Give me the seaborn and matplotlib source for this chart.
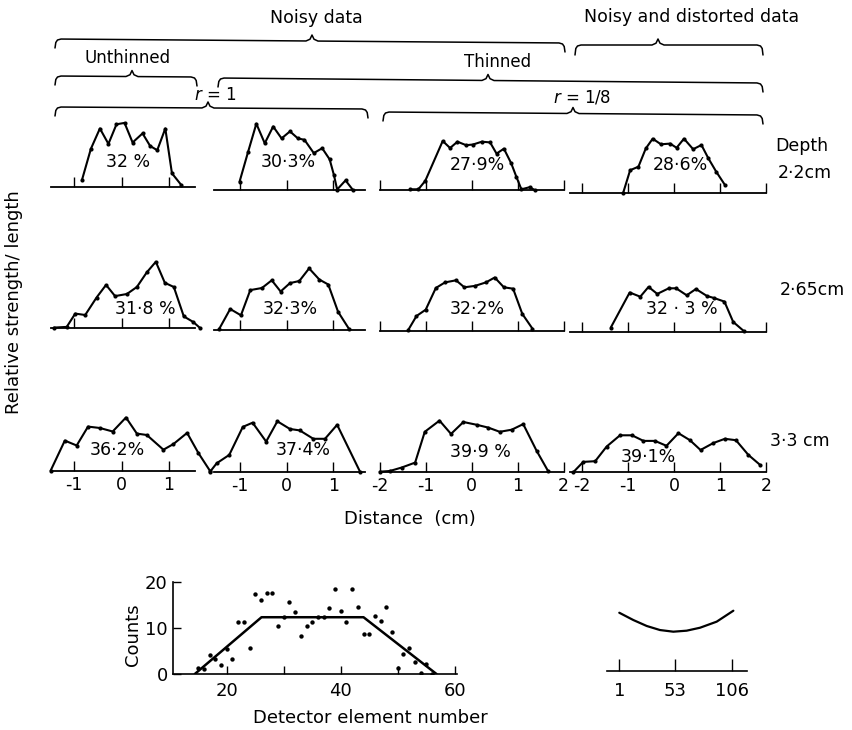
import matplotlib
matplotlib.use("Agg")
import matplotlib.pyplot as plt
import seaborn as sns

# ---------------- data ----------------
depth_labels = ["Depth", "2·2cm", "2·65cm", "3·3 cm"]
column_ticks = [[-1, 0, 1], [-1, 0, 1], [-2, -1, 0, 1, 2], [-2, -1, 0, 1, 2]]
column_tick_labels = [["-1", "0", "1"], ["-1", "0", "1"],
                      ["-2", "-1", "0", "1", "2"], ["-2", "-1", "0", "1", "2"]]
percent_labels = [["32 %", "30·3%", "27·9%", "28·6%"],
                  ["31·8 %", "32·3%", "32·2%", "32 · 3 %"],
                  ["36·2%", "37·4%", "39·9 %", "39·1%"]]

# depth 2.2 cm
r1c1_x = [-0.84, -0.65, -0.46, -0.28, -0.11, 0.06, 0.23, 0.44, 0.60, 0.75, 0.92, 1.06, 1.26]
r1c1_y = [0.10, 0.55, 0.84, 0.62, 0.90, 0.92, 0.64, 0.77, 0.59, 0.53, 0.84, 0.20, 0.03]
r1c2_x = [-1.01, -0.83, -0.65, -0.47, -0.29, -0.11, 0.07, 0.24, 0.38, 0.58, 0.76, 0.92, 1.01, 1.08, 1.26, 1.41]
r1c2_y = [0.11, 0.53, 0.94, 0.66, 0.90, 0.73, 0.83, 0.73, 0.71, 0.52, 0.59, 0.43, 0.21, 0.0, 0.13, 0.0]
r1c3_x = [-1.34, -1.16, -1.01, -0.63, -0.47, -0.31, -0.12, 0.03, 0.22, 0.40, 0.54, 0.70, 0.86, 0.97, 1.08, 1.26, 1.37]
r1c3_y = [0.01, 0.01, 0.13, 0.70, 0.60, 0.69, 0.64, 0.65, 0.69, 0.68, 0.52, 0.59, 0.38, 0.19, 0.01, 0.04, 0.0]
r1c4_x = [-1.11, -0.96, -0.78, -0.62, -0.47, -0.29, -0.09, 0.05, 0.21, 0.41, 0.59, 0.74, 0.91, 1.10]
r1c4_y = [0.01, 0.33, 0.38, 0.64, 0.78, 0.70, 0.71, 0.65, 0.78, 0.63, 0.69, 0.50, 0.31, 0.12]
# depth 2.65 cm
r2c1_x = [-1.43, -1.16, -0.98, -0.77, -0.53, -0.33, -0.14, 0.11, 0.32, 0.53, 0.72, 0.91, 1.10, 1.31, 1.51, 1.66]
r2c1_y = [0.01, 0.02, 0.21, 0.19, 0.44, 0.62, 0.46, 0.49, 0.59, 0.80, 0.95, 0.65, 0.59, 0.17, 0.09, 0.0]
r2c2_x = [-1.45, -1.21, -0.98, -0.78, -0.53, -0.32, -0.13, 0.07, 0.27, 0.48, 0.70, 0.89, 1.10, 1.33]
r2c2_y = [0.01, 0.30, 0.21, 0.57, 0.60, 0.71, 0.55, 0.67, 0.70, 0.88, 0.72, 0.65, 0.26, 0.02]
r2c3_x = [-1.38, -1.20, -1.00, -0.78, -0.58, -0.34, -0.16, 0.07, 0.31, 0.50, 0.70, 0.90, 1.10, 1.32]
r2c3_y = [0.01, 0.21, 0.30, 0.61, 0.69, 0.72, 0.62, 0.64, 0.69, 0.76, 0.62, 0.60, 0.24, 0.03]
r2c4_x = [-1.38, -0.97, -0.74, -0.56, -0.37, -0.12, 0.04, 0.27, 0.47, 0.71, 0.87, 1.09, 1.28, 1.51]
r2c4_y = [0.06, 0.56, 0.50, 0.64, 0.54, 0.62, 0.62, 0.52, 0.61, 0.51, 0.48, 0.43, 0.14, 0.01]
# depth 3.3 cm
r3c1_x = [-1.50, -1.20, -0.95, -0.71, -0.46, -0.19, 0.09, 0.32, 0.53, 0.88, 1.09, 1.38, 1.62, 1.87]
r3c1_y = [0.0, 0.43, 0.36, 0.63, 0.61, 0.56, 0.76, 0.53, 0.51, 0.30, 0.38, 0.54, 0.25, -0.01]
r3c2_x = [-1.64, -1.50, -1.23, -0.94, -0.73, -0.44, -0.20, 0.07, 0.28, 0.57, 0.82, 1.08, 1.57]
r3c2_y = [0.0, 0.12, 0.24, 0.64, 0.70, 0.43, 0.72, 0.61, 0.59, 0.47, 0.47, 0.67, 0.0]
r3c3_x = [-2.0, -1.78, -1.52, -1.23, -1.02, -0.70, -0.45, -0.18, 0.11, 0.36, 0.61, 0.87, 1.12, 1.41, 1.66]
r3c3_y = [0.0, 0.01, 0.06, 0.13, 0.57, 0.73, 0.54, 0.71, 0.67, 0.63, 0.57, 0.60, 0.68, 0.30, 0.01]
r3c4_x = [-2.20, -1.98, -1.72, -1.47, -1.18, -0.92, -0.67, -0.42, -0.17, 0.09, 0.34, 0.57, 0.85, 1.10, 1.34, 1.61, 1.86]
r3c4_y = [-0.01, 0.14, 0.15, 0.36, 0.52, 0.52, 0.44, 0.44, 0.37, 0.55, 0.45, 0.31, 0.41, 0.47, 0.45, 0.24, 0.10]

# detector counts
detector_x = [15, 16, 17, 18, 19, 20, 21, 22, 23, 24, 25, 26, 27, 28, 29, 30, 31, 32, 33, 34, 35,
              36, 37, 38, 39, 40, 41, 42, 43, 44, 45, 46, 47, 48, 49, 50, 51, 52, 53, 54, 55, 56]
counts = [1.2, 1.0, 4.1, 3.2, 2.0, 5.4, 3.3, 11.2, 11.2, 5.7, 17.3, 16.0, 17.5, 17.5, 10.4,
          12.3, 15.5, 13.4, 8.2, 10.4, 11.3, 12.4, 12.4, 14.4, 18.4, 13.7, 11.3, 18.4, 14.5,
          8.6, 8.6, 12.6, 11.5, 14.5, 9.0, 1.2, 4.3, 5.7, 2.7, 0.3, 2.1, 0.0]
fit_x = [14.4, 26.1, 44.0, 56.8]
fit_y = [0.0, 12.3, 12.3, 0.0]
count_xticks = [20, 40, 60]
count_minor_xticks = [30, 50]
count_yticks = [0, 10, 20]

# weighting curve across 106 elements
element_u = [1, 14, 26.5, 38.8, 51.2, 63.6, 76, 91.5, 107]
element_w = [0.630, 0.551, 0.486, 0.442, 0.424, 0.435, 0.467, 0.533, 0.652]
element_ticks = [1, 53, 106]

# ---------------- layout ----------------
W, H = 853, 730
sns.set_theme(style="white")
plt.rcParams["font.family"] = ["DejaVu Sans"]
plt.rcParams["axes.unicode_minus"] = False
plt.rcParams["mathtext.fontset"] = "dejavusans"

fig = plt.figure(figsize=(W / 100, H / 100), dpi=100)


def rect(l, t, r, b):
    return [l / W, 1 - b / H, (r - l) / W, (b - t) / H]


panel_x = [[r1c1_x, r1c2_x, r1c3_x, r1c4_x],
           [r2c1_x, r2c2_x, r2c3_x, r2c4_x],
           [r3c1_x, r3c2_x, r3c3_x, r3c4_x]]
panel_y = [[r1c1_y, r1c2_y, r1c3_y, r1c4_y],
           [r2c1_y, r2c2_y, r2c3_y, r2c4_y],
           [r3c1_y, r3c2_y, r3c3_y, r3c4_y]]

col_c0 = [121.7, 286.7, 471.7, 674.3]
col_s = [47.4, 46.7, 46.0, 46.0]
col_xlim = [(-1.49, 1.55), (-1.55, 1.68), (-2.0, 2.0), (-2.27, 2.0)]
row_base = [[187.3, 189.5, 190.0, 193.3],
            [328.3, 330.0, 330.7, 331.7],
            [470.7, 471.7, 471.7, 471.7]]
YPX = 70.0
PANEL_TOP = 1.1

for i in range(3):
    for j in range(4):
        base = row_base[i][j]
        l = col_c0[j] + col_xlim[j][0] * col_s[j]
        r = col_c0[j] + col_xlim[j][1] * col_s[j]
        ax = fig.add_axes(rect(l, base - PANEL_TOP * YPX, r, base))
        ax.patch.set_alpha(0)
        sns.lineplot(x=panel_x[i][j], y=panel_y[i][j], ax=ax, color="black",
                     linewidth=1.5, marker="o", markersize=3, markeredgewidth=0,
                     sort=False, estimator=None, clip_on=False)
        ax.set_xlim(*col_xlim[j])
        ax.set_ylim(0, PANEL_TOP)
        sns.despine(ax=ax, left=True)
        ax.spines["bottom"].set_linewidth(1.3)
        ax.spines["bottom"].set_color("black")
        ax.set_yticks([])
        ax.set_xticks(column_ticks[j])
        ax.set_xticklabels(column_tick_labels[j] if i == 2 else [])
        ax.tick_params(axis="x", direction="in", length=7, width=1, pad=4,
                       labelsize=12.5, colors="black", bottom=True)
        ax.set_xlabel("")
        ax.set_ylabel("")

# detector counts panel
axc = fig.add_axes(rect(172.6, 581.7, 457.0, 674.0))
axc.patch.set_alpha(0)
sns.scatterplot(x=detector_x, y=counts, ax=axc, color="black", s=10, linewidth=0)
sns.lineplot(x=fit_x, y=fit_y, ax=axc, color="black", linewidth=1.8, sort=False, estimator=None)
axc.set_xlim(10.5, 60.4)
axc.set_ylim(0, 20)
sns.despine(ax=axc)
for sp in ("left", "bottom"):
    axc.spines[sp].set_linewidth(1.2)
    axc.spines[sp].set_color("black")
axc.set_xticks(count_xticks)
axc.set_xticks(count_minor_xticks, minor=True)
axc.set_yticks(count_yticks)
axc.tick_params(axis="both", which="both", direction="in", length=6, width=1,
                labelsize=13, colors="black", bottom=True, left=True)
axc.tick_params(axis="x", pad=6)
axc.set_xlabel("")
axc.set_ylabel("")

# weighting curve panel
axw = fig.add_axes(rect(606.7, 578.7, 746.7, 670.7))
axw.patch.set_alpha(0)
sns.lineplot(x=element_u, y=element_w, ax=axw, color="black", linewidth=1.6,
             sort=False, estimator=None)
axw.set_xlim(-10.7, 119.4)
axw.set_ylim(0, 1)
sns.despine(ax=axw, left=True)
axw.spines["bottom"].set_linewidth(1.2)
axw.spines["bottom"].set_color("black")
axw.set_yticks([])
axw.set_xticks(element_ticks)
axw.set_xticklabels([str(t) for t in element_ticks])
axw.tick_params(axis="x", direction="in", length=9, width=1, pad=8,
                labelsize=13, colors="black", bottom=True)
axw.set_xlabel("")
axw.set_ylabel("")

# overlay in pixel coordinates for braces and free text
ov = fig.add_axes([0, 0, 1, 1])
ov.set_xlim(0, W)
ov.set_ylim(H, 0)
ov.axis("off")
ov.patch.set_alpha(0)


def brace(x0, x1, xt, y0, y1, hook=9, tip=6):
    def yl(x):
        return y0 + (y1 - y0) * (x - x0) / (x1 - x0)
    xs = [x0, x0 + 0.8, x0 + 2.5, x0 + 6, xt - 6, xt - 2, xt, xt + 2, xt + 6,
          x1 - 6, x1 - 2.5, x1 - 0.8, x1]
    ys = [yl(x0) + hook, yl(x0) + 3.5, yl(x0) + 1, yl(x0 + 6), yl(xt - 6),
          yl(xt) - 1.8, yl(xt) - tip, yl(xt) - 1.8, yl(xt + 6),
          yl(x1 - 6), yl(x1) + 1, yl(x1) + 3.5, yl(x1) + hook]
    ov.plot(xs, ys, color="black", linewidth=1.1, solid_capstyle="round",
            solid_joinstyle="round")


brace(55, 565, 312, 39, 43)
brace(575, 763, 658, 45, 45, hook=10)
brace(55, 197, 132, 76, 77)
brace(218, 763, 488, 78, 83)
brace(55, 368, 208, 107, 109)
brace(383, 763, 573, 112, 115)

tk = dict(color="black", ha="center", va="center")
ov.text(316, 18, "Noisy data", fontsize=12.5, **tk)
ov.text(692, 17, "Noisy and distorted data", fontsize=12.5, **tk)
ov.text(128, 58, "Unthinned", fontsize=12, **tk)
ov.text(498, 62, "Thinned", fontsize=12, **tk)
ov.text(215, 95, r"$r$ = 1", fontsize=12, **tk)
ov.text(582, 97, r"$r$ = 1/8", fontsize=12, **tk)

pct_pos = [[(128, 162), (288, 162), (477, 165), (680, 165)],
           [(145, 309), (290, 309), (477, 309), (682, 309)],
           [(117, 450), (303, 450), (480, 452), (648, 457)]]
for i in range(3):
    for j in range(4):
        x, y = pct_pos[i][j]
        ov.text(x, y, percent_labels[i][j], fontsize=12.5, **tk)

depth_pos = [(775, 146), (778, 173), (780, 290), (770, 441)]
for (x, y), s in zip(depth_pos, depth_labels):
    ov.text(x, y, s, fontsize=12.5, color="black", ha="left", va="center")

ov.text(14, 302, "Relative strength/ length", fontsize=13, rotation=90, **tk)
ov.text(410, 519, "Distance  (cm)", fontsize=13, **tk)
ov.text(133, 635, "Counts", fontsize=13, rotation=90, **tk)
ov.text(370, 718, "Detector element number", fontsize=13, **tk)

fig.savefig("out.png", dpi=100)
